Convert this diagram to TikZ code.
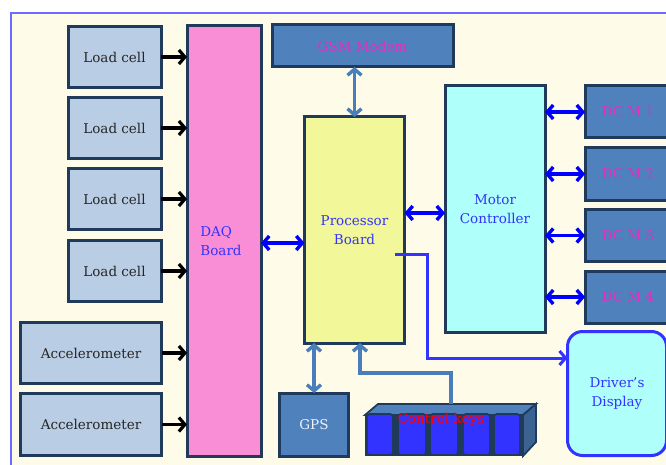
\documentclass[tikz,border=0pt]{standalone}
\usepackage{fontspec}
\setmainfont{DejaVu Serif}
\usetikzlibrary{arrows.meta}
\definecolor{bgcream}{HTML}{FEFCE8}
\definecolor{framec}{HTML}{6B6BFF}
\definecolor{navy}{HTML}{1F3A5A}
\definecolor{lblue}{HTML}{B9CDE5}
\definecolor{pinkc}{HTML}{F98ED6}
\definecolor{yellowc}{HTML}{F2F79A}
\definecolor{cyanc}{HTML}{AFFFFA}
\definecolor{steel}{HTML}{4F81BD}
\definecolor{steeldark}{HTML}{3A6391}
\definecolor{txtblue}{HTML}{3333FF}
\definecolor{magc}{HTML}{E030C0}
\definecolor{keyblue}{HTML}{3333FF}
\definecolor{arrowsteel}{HTML}{4A7EBB}
\tikzset{
  x=1pt,y=-1pt,
  every node/.style={font=\fontsize{13.5}{19}\selectfont, inner sep=0pt, outer sep=0pt},
  blk/.style={draw=navy, line width=3pt, rectangle, align=center},
  sensor/.style={blk, fill=lblue, text=black!85},
  darkbox/.style={blk, fill=steel, text=magc},
  tip/.style={Straight Barb[length=6pt,width=14pt]},
  barrow/.style={draw=black, line width=3.2pt, -{Straight Barb[length=6pt,width=14pt]}},
  dblue/.style={draw=blue, line width=3.4pt, {Straight Barb[length=6pt,width=14pt]}-{Straight Barb[length=6pt,width=14pt]}},
  dsteel/.style={draw=arrowsteel, line width=3.4pt, {Straight Barb[length=6pt,width=14pt]}-{Straight Barb[length=6pt,width=14pt]}},
  ssteel/.style={draw=arrowsteel, line width=3.4pt, -{Straight Barb[length=6pt,width=14pt]}},
  drvline/.style={draw=txtblue, line width=3pt, -{Straight Barb[length=6pt,width=14pt]}},
  keycap/.style={draw=navy, line width=1.8pt, fill=keyblue, rounded corners=3pt},
}
\begin{document}
\begin{tikzpicture}
\useasboundingbox (0,0) rectangle (666,465);
\fill[white] (0,0) rectangle (666,465);
\fill[bgcream] (11,13) rectangle (666,465);
\draw[framec, line width=1.5pt] (11,470) -- (11,13) -- (670,13);

% load cells
\node[sensor, minimum width=93, minimum height=61] (lc1) at (114.5,57) {Load cell};
\node[sensor, minimum width=93, minimum height=61] (lc2) at (114.5,128) {Load cell};
\node[sensor, minimum width=93, minimum height=61] (lc3) at (114.5,199) {Load cell};
\node[sensor, minimum width=93, minimum height=61] (lc4) at (114.5,271) {Load cell};
\node[sensor, minimum width=141, minimum height=61] (ac1) at (91,353) {Accelerometer};
\node[sensor, minimum width=141, minimum height=62] (ac2) at (91,424.5) {Accelerometer};

% DAQ
\node[blk, fill=pinkc, minimum width=74, minimum height=430] (daq) at (224,241) {};
\node[text=txtblue, align=left] (daqt) at (221,241) {DAQ\\Board};

% GSM
\node[darkbox, minimum width=181, minimum height=42] (gsm) at (362.5,46) {GSM Modem};

% Processor
\node[blk, fill=yellowc, minimum width=100, minimum height=226, text=txtblue] (proc) at (354.5,230) {Processor\\Board};

% Motor controller
\node[blk, fill=cyanc, minimum width=100, minimum height=246, text=txtblue] (mc) at (495,209) {Motor\\Controller};

% DC motors
\node[darkbox, minimum width=86, minimum height=52] (m1) at (628,112) {DC M 1};
\node[darkbox, minimum width=86, minimum height=52] (m2) at (628,174) {DC M 2};
\node[darkbox, minimum width=86, minimum height=52] (m3) at (628,235.5) {DC M 3};
\node[darkbox, minimum width=86, minimum height=52] (m4) at (628,297) {DC M 4};

% Driver display
\node[draw=txtblue, line width=3pt, fill=cyanc, rounded corners=15pt, minimum width=99, minimum height=124, text=txtblue, align=center] (drv) at (617,393.5) {Driver's\\Display};

% GPS
\node[blk, fill=steel, minimum width=69, minimum height=63, text=white!90!steel] (gps) at (314,424.5) {GPS};

% control keys
\fill[steel, draw=navy, line width=1.8pt] (365,415) -- (378,404) -- (536,404) -- (523,415) -- cycle;
\fill[steeldark, draw=navy, line width=1.8pt] (523,415) -- (536,404) -- (536,442) -- (523,456) -- cycle;
\fill[navy] (365,415) rectangle (523,456);
\draw[keycap] (367,414) rectangle (393,455);
\draw[keycap] (398,414) rectangle (426,455);
\draw[keycap] (430,414) rectangle (458,455);
\draw[keycap] (463,414) rectangle (490,455);
\draw[keycap] (494,414) rectangle (520,455);
\node[text=red] (ck) at (441,420) {Control keys};
\coordinate (ckt) at (451,404);
\coordinate (bend) at (360,373);

% connectors
\foreach \s in {lc1,lc2,lc3,lc4,ac1,ac2}
  \draw[barrow] (\s.east) -- (\s.east -| daq.west);

\coordinate (yda) at (0,243);
\draw[dblue] (daq.east |- yda) -- (proc.west |- yda);
\coordinate (ypm) at (0,213);
\draw[dblue] (proc.east |- ypm) -- (mc.west |- ypm);
\foreach \m in {m1,m2,m3,m4}
  \draw[dblue] (mc.east |- \m.west) -- (\m.west);

\draw[dsteel] (proc.north) -- (proc.north |- gsm.south);
\draw[dsteel] (gps.north) -- (gps.north |- proc.south);
\draw[ssteel] (ckt) |- (bend) -- (bend |- proc.south);

\coordinate (ps) at (395,254);
\coordinate (pj) at (427,254);
\coordinate (dq) at (0,358);
\draw[drvline] (ps) -- (pj) |- (drv.west |- dq);
\end{tikzpicture}
\end{document}
